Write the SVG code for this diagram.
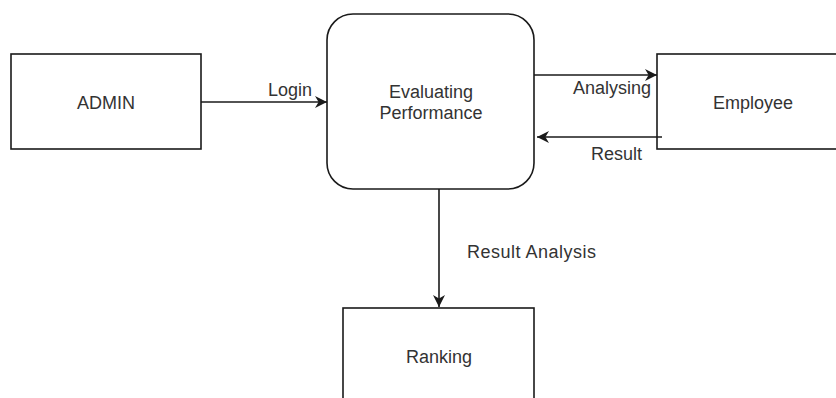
<svg xmlns="http://www.w3.org/2000/svg" width="836" height="398" viewBox="0 0 836 398">
<defs>
<style>
.box{fill:#fff;stroke:#1a1a1a;stroke-width:1.6}
.lbl{font-family:"Liberation Sans",Arial,sans-serif;font-size:18px;fill:#333}
.mid{text-anchor:middle}
.edge{stroke:#1a1a1a;stroke-width:1.6;fill:none}
</style>
<marker id="arr" viewBox="0 0 10 10" refX="10" refY="5" markerWidth="12" markerHeight="12" markerUnits="userSpaceOnUse" orient="auto">
<path d="M0,0 L10,5 L0,10 L3,5 z" fill="#1a1a1a"/>
</marker>
</defs>
<rect width="836" height="398" fill="#fff"/>
<g id="admin">
<rect class="box" x="11" y="54" width="190" height="95"/>
<text class="lbl mid" x="106" y="109">ADMIN</text>
</g>
<g id="evaluating">
<rect class="box" x="327" y="14" width="207" height="175" rx="26" ry="26"/>
<text class="lbl mid" x="431" y="98">Evaluating</text>
<text class="lbl mid" x="431" y="119">Performance</text>
</g>
<g id="employee">
<rect class="box" x="657" y="54" width="190" height="95"/>
<text class="lbl mid" x="753" y="109">Employee</text>
</g>
<g id="ranking">
<rect class="box" x="343" y="308" width="191" height="100"/>
<text class="lbl mid" x="439" y="363">Ranking</text>
</g>
<g id="connectors">
<line class="edge" x1="201" y1="102" x2="327" y2="102" marker-end="url(#arr)"/>
<text class="lbl" x="268" y="96">Login</text>
<line class="edge" x1="534" y1="75" x2="657" y2="75" marker-end="url(#arr)"/>
<text class="lbl" x="573" y="94">Analysing</text>
<line class="edge" x1="662" y1="137" x2="537" y2="137" marker-end="url(#arr)"/>
<text class="lbl" x="591" y="160">Result</text>
<line class="edge" x1="439" y1="189" x2="439" y2="307" marker-end="url(#arr)"/>
<text class="lbl" x="467" y="258" textLength="129">Result Analysis</text>
</g>
</svg>
